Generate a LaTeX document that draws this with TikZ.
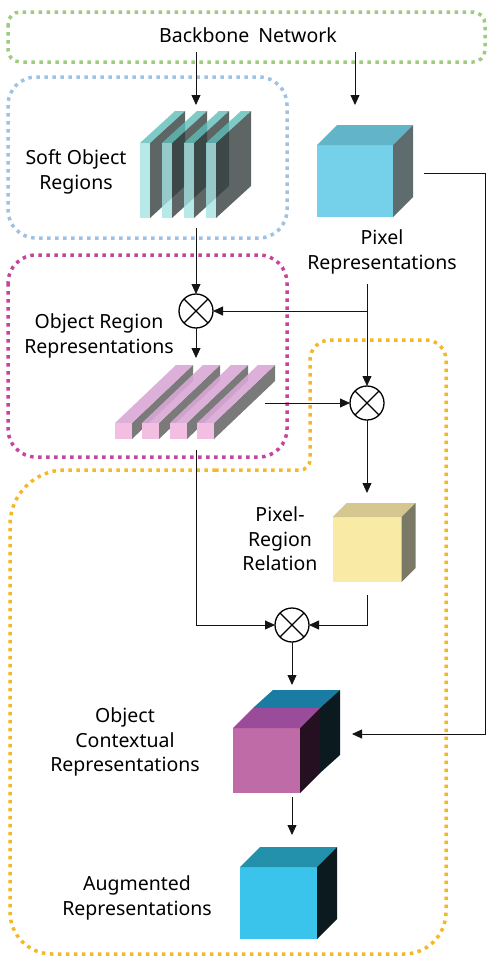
\documentclass[tikz,border=0pt]{standalone}
\usepackage{fontspec}
\setmainfont{Noto Sans}
\usepackage{tikz}
\usetikzlibrary{arrows.meta, positioning, calc}
\definecolor{mydark}{RGB}{20,20,20}
\definecolor{mygreen}{HTML}{9DCC7E}
\definecolor{myblue}{HTML}{9EC2E3}
\definecolor{mymagenta}{HTML}{C4449E}
\definecolor{myyellow}{HTML}{F2B927}
\definecolor{slabfront}{HTML}{A6E3E3}
\definecolor{slabtop}{HTML}{5DBDB8}
\definecolor{slabside}{HTML}{34403F}
\definecolor{barfront}{HTML}{F2BEE2}
\definecolor{bartop}{HTML}{D9A7D6}
\definecolor{barside}{HTML}{6C6C6C}
\definecolor{pixfront}{HTML}{74D1E9}
\definecolor{pixtop}{HTML}{62B5C9}
\definecolor{pixside}{HTML}{5E6C6D}
\definecolor{prrfront}{HTML}{F9EAA6}
\definecolor{prrtop}{HTML}{D6C68F}
\definecolor{prrside}{HTML}{7A7966}
\definecolor{ocrfront}{HTML}{BF6BA8}
\definecolor{ocrtop}{HTML}{9A4B99}
\definecolor{ocrside}{HTML}{241020}
\definecolor{ocrbluetop}{HTML}{1B7CA3}
\definecolor{ocrblueside}{HTML}{0B1A1F}
\definecolor{augfront}{HTML}{3BC4EB}
\definecolor{augtop}{HTML}{2491AC}
\definecolor{augside}{HTML}{0A1A1E}
\tikzset{
  dotbox/.style={line width=3.5pt, dash pattern=on 3.5pt off 4.5pt, rounded corners=28pt},
  arrow/.style={-{Triangle[length=10pt, width=9pt]}, line width=0.8pt, color=mydark},
  line/.style={line width=0.8pt, color=mydark},
  mult/.style={circle, draw=black, line width=1.3pt, minimum size=34pt,
    inner sep=0pt, outer sep=0pt},
  lbl/.style={align=center, font=\fontsize{19.5}{24.5}\selectfont, inner sep=0pt},
  cubeface/.style={rectangle, inner sep=0pt, outer sep=0pt},
  slab/.style={fill opacity=0.8}
}
% top and right faces of a block whose front face is node #1
\newcommand{\cubeshade}[4]{%
  \fill[#3] (#1.north west) -- ++(#2,-#2) -- ([shift={(#2,-#2)}]#1.north east) -- (#1.north east) -- cycle;
  \fill[#4] (#1.north east) -- ++(#2,-#2) -- ([shift={(#2,-#2)}]#1.south east) -- (#1.south east) -- cycle;
}
\begin{document}
\begin{tikzpicture}[x=1pt, y=-1pt]
  \useasboundingbox (0,0) rectangle (487,961);

  % dotted group frames
  \draw[dotbox, color=mygreen, rounded corners=12pt] (8,12) rectangle (485,62);
  \draw[dotbox, color=myblue] (8,77) rectangle (287,238);
  \draw[dotbox, color=mymagenta] (8,255) rectangle (287,457);
  \draw[dotbox, color=myyellow, rounded corners=0pt] (160,470) [rounded corners=10pt] -- (310,470)
    [rounded corners=20pt] -- (310,340) -- (446,340) [rounded corners=42pt] -- (446,954) -- (10,954)
    [rounded corners=55pt] -- (10,470) -- cycle;

  % soft object regions (thin slabs)
  \foreach \x in {140,162,184,206} {
    \fill[slabside, slab] (\x+10,143) -- ++(35,-32) -- ++(0,75) -- (\x+10,218) -- cycle;
    \fill[slabtop, slab] (\x,143) -- ++(35,-32) -- ++(10,0) -- (\x+10,143) -- cycle;
    \fill[slabfront, slab] (\x,143) rectangle (\x+10,218);
  }
  \node[cubeface, minimum width=100pt, minimum height=123pt] (sor) at (196,166.5) {};

  % object region representations (long bars)
  \foreach \x in {115,142,170,197} {
    \fill[barside, fill opacity=0.9] (\x+17,423) -- ++(61,-58) -- ++(0,16) -- (\x+17,439) -- cycle;
    \fill[bartop, fill opacity=0.9] (\x,423) -- ++(61,-58) -- ++(17,0) -- (\x+17,423) -- cycle;
    \fill[barfront] (\x,423) rectangle (\x+17,439);
  }
  \node[cubeface, minimum width=138pt, minimum height=92pt] (orr) at (196,404) {};

  % feature blocks
  \node[cubeface, fill=pixfront, minimum width=76pt, minimum height=72pt] (pix) at (355,181) {};
  \cubeshade{pix}{20}{pixtop}{pixside}
  \node[cubeface, fill=prrfront, minimum width=69pt, minimum height=65pt] (prr) at (367,549.5) {};
  \cubeshade{prr}{14}{prrtop}{prrside}
  \node[cubeface, fill=ocrfront, minimum width=67pt, minimum height=65pt] (ocr) at (266.5,760.5) {};
  \fill[ocrbluetop] ([shift={(20,-20)}]ocr.north west) -- ++(20,-18) -- ([shift={(40,-38)}]ocr.north east) -- ([shift={(20,-20)}]ocr.north east) -- cycle;
  \fill[ocrblueside] ([shift={(20,-20)}]ocr.north east) -- ++(20,-18) -- ([shift={(40,-38)}]ocr.south east) -- ([shift={(20,-20)}]ocr.south east) -- cycle;
  \cubeshade{ocr}{20}{ocrtop}{ocrside}
  \node[cubeface, fill=augfront, minimum width=77pt, minimum height=72pt] (aug) at (278.5,903) {};
  \cubeshade{aug}{20}{augtop}{augside}

  % labels
  \node[lbl, minimum height=34pt] (bb) at (248,35) {Backbone\hspace{0.2em} Network};
  \node[lbl] (sorlab) at (76,172) {Soft Object\\Regions};
  \node[lbl] (pixlab) at (382,252) {Pixel\\Representations};
  \node[lbl] (orrlab) at (99,336) {Object Region\\Representations};
  \node[lbl] (prrlab) at (280,539) {Pixel-\\Region\\Relation};
  \node[lbl] (ocrlab) at (125,742) {Object\\Contextual\\Representations};
  \node[lbl] (auglab) at (137,898) {Augmented\\Representations};

  % multiplications
  \node[mult] (m1) at (196,311) {};
  \node[mult] (m2) at (367,403) {};
  \node[mult] (m3) at (292,625) {};
  \foreach \m in {m1,m2,m3}
    \draw[line width=1.3pt] (\m.north east) -- (\m.south west) (\m.north west) -- (\m.south east);

  % connections
  \coordinate (rail) at (485,0);
  \coordinate (pixout) at ([yshift=8pt]pix.east);
  \coordinate (ocrin) at ([yshift=26.5pt]ocr.east);
  \draw[arrow] (bb.south -| sor) -- (sor.north);
  \draw[arrow, shorten >=40pt] (bb.south -| pix) -- (pix.north);
  \draw[arrow] (sor.south) -- (m1.north);
  \draw[arrow, shorten <=10pt] (pixlab.south -| m2) -- (m2.north);
  \draw[arrow] (m1 -| m2) -- (m1.east);
  \draw[arrow] (m1.south) -- (orr.north);
  \draw[arrow] (orr.east |- m2) -- (m2.west);
  \draw[arrow, shorten >=24pt] (m2.south) -- (m2.south |- prr.north);
  \draw[arrow, shorten <=13pt] (prr.south) |- (m3.east);
  \draw[arrow] (orr.south) |- (m3.west);
  \draw[arrow, shorten >=43pt] (m3.south) -- (m3.south |- ocr.north);
  \draw[arrow, shorten <=31pt, shorten >=52pt] (pixout) -- (pixout -| rail) |- (ocrin);
  \draw[arrow, shorten <=4pt, shorten >=32pt] (ocr.south -| m3) -- (aug.north -| m3);
\end{tikzpicture}
\end{document}
